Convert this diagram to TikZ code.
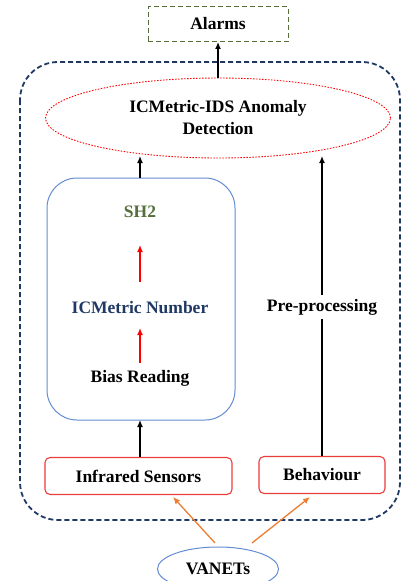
\documentclass[tikz,border=0pt]{standalone}
\usepackage{fontspec}
\setmainfont{Liberation Serif}
\usetikzlibrary{shapes.geometric,arrows.meta}
\definecolor{navy}{RGB}{31,56,100}
\definecolor{olive}{RGB}{84,110,60}
\definecolor{boxred}{RGB}{235,60,60}
\definecolor{boxblue}{RGB}{100,140,210}
\definecolor{arroworange}{RGB}{237,125,49}
\tikzset{
  lbl/.style={font=\fontsize{17.5}{20}\selectfont\bfseries,align=center,inner sep=0pt},
  redbox/.style={lbl,draw=boxred,line width=1.1pt,rounded corners=5pt,minimum height=37pt},
  up/.style={-{Latex[length=7pt,width=6pt]},line width=1.6pt},
  redup/.style={-{Latex[length=7pt,width=6pt]},line width=1.4pt,red},
  orangeup/.style={-{Latex[length=7pt,width=6pt]},line width=1.3pt,arroworange}
}
\begin{document}
\begin{tikzpicture}[x=1pt,y=-1pt]
      \useasboundingbox (0,0) rectangle (403,581);
      % outer system frame
      \draw[navy,line width=1.8pt,dash pattern=on 5pt off 3pt,rounded corners=38pt] (20,62) rectangle (400,520);
      \node[lbl,draw=olive,dash pattern=on 5pt off 3pt,line width=0.9pt,minimum width=140pt,minimum height=35pt] (alarms) at (218,24) {Alarms};
      \node[lbl,ellipse,draw=red,dash pattern=on 1.5pt off 1.5pt,line width=0.9pt,minimum width=345pt,minimum height=80pt] (ids) at (218,118) {ICMetric-IDS Anomaly\\[2pt]Detection};
      % icmetric block
      \draw[boxblue,line width=1pt,rounded corners=30pt] (47,178) rectangle (235,420);
      \coordinate (blocktop) at (140,178);
      \coordinate (blockbot) at (140,420);
      \node[lbl,text=olive] (sh2) at (140,212) {SH2};
      \node[lbl,text=navy] (icm) at (140,308) {ICMetric Number};
      \node[lbl] (bias) at (140,378) {Bias Reading};
      \node[redbox,minimum width=187pt] (infra) at (138.5,476) {Infrared Sensors};
      \node[redbox,minimum width=126pt] (behav) at (322,475) {Behaviour};
      \node[lbl,fill=white,inner sep=4pt] (pre) at (322,307) {Pre-processing};
      \node[lbl,ellipse,draw=boxblue,line width=1pt,minimum width=121pt,minimum height=44pt] (vanets) at (218,569) {VANETs};
      \coordinate (vl) at (215,543);
      \coordinate (vr) at (252,543);
      % arrows
      \draw[redup] (140,363) -- (140,328);
      \draw[redup] (140,282) -- (140,245);
      \draw[up] (infra.north -| blockbot) -- (blockbot);
      \draw[up] (blocktop) -- (140,156);
      \draw[line width=1.6pt] (behav.north) -- (pre.south);
      \draw[up] (pre.north) -- (322,156);
      \draw[up] (ids.north) -- (alarms.south);
      \draw[orangeup] (vl) -- (173,497);
      \draw[orangeup] (vr) -- (310,497);
    \end{tikzpicture}
\end{document}
